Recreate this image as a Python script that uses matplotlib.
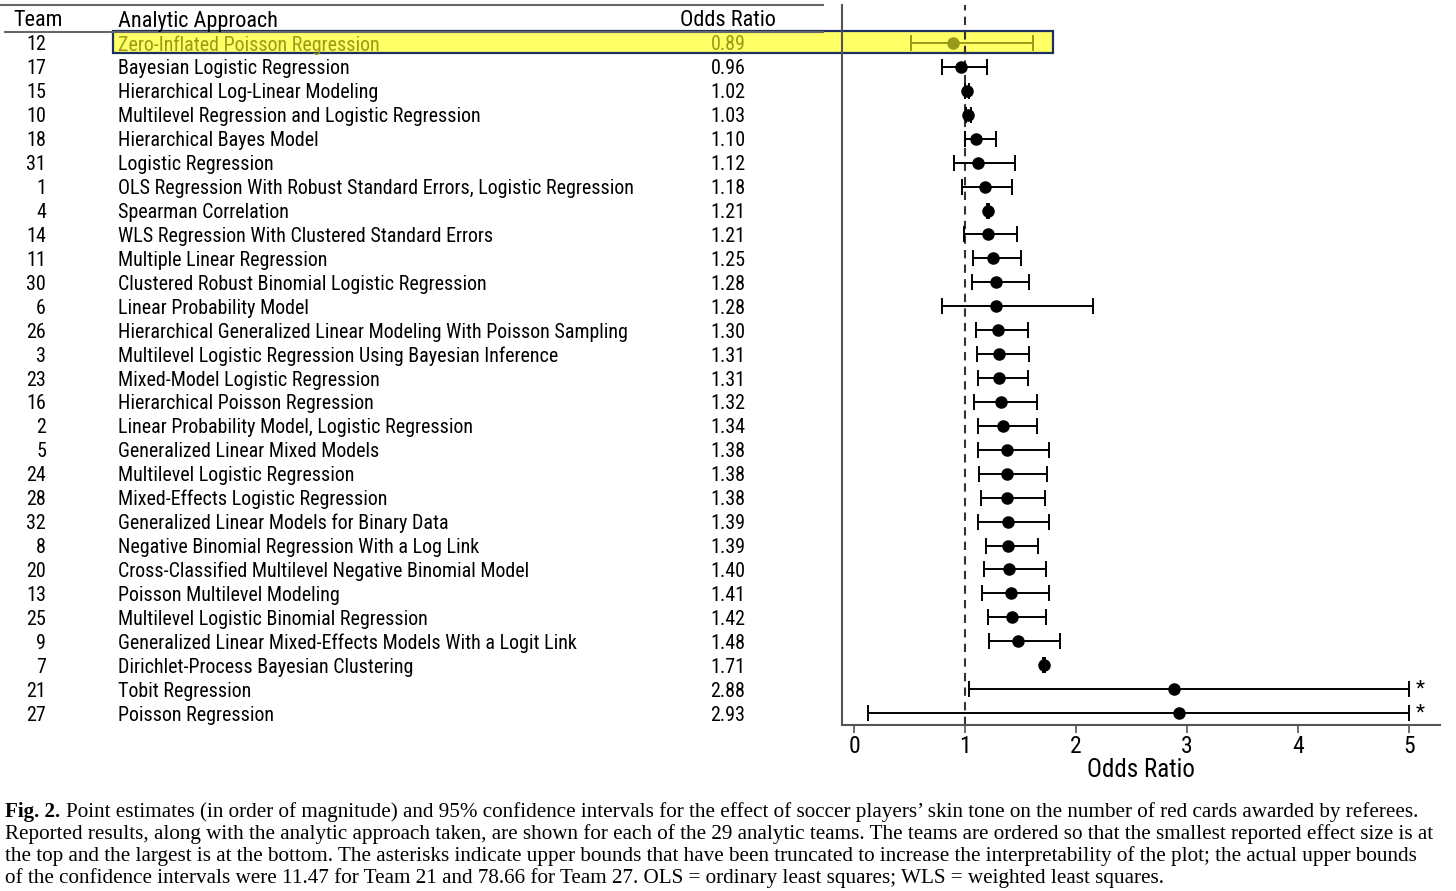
import matplotlib
matplotlib.use("Agg")
import matplotlib.pyplot as plt
from matplotlib.transforms import blended_transform_factory, offset_copy
from matplotlib.patches import Rectangle
from matplotlib import font_manager

names = {f.name for f in font_manager.fontManager.ttflist}
cands = ['Roboto Condensed', 'Archivo Narrow', 'PT Sans Narrow', 'IBM Plex Sans Condensed',
         'Open Sans Condensed', 'Liberation Sans']
SANS = [next(c for c in cands if c in names), 'DejaVu Sans']
SERIF = ['Liberation Serif', 'DejaVu Serif']

teams = [12, 17, 15, 10, 18, 31, 1, 4, 14, 11, 30, 6, 26, 3, 23, 16, 2, 5, 24, 28, 32, 8, 20, 13, 25, 9, 7, 21, 27]
approaches = [
    "Zero-Inflated Poisson Regression",
    "Bayesian Logistic Regression",
    "Hierarchical Log-Linear Modeling",
    "Multilevel Regression and Logistic Regression",
    "Hierarchical Bayes Model",
    "Logistic Regression",
    "OLS Regression With Robust Standard Errors, Logistic Regression",
    "Spearman Correlation",
    "WLS Regression With Clustered Standard Errors",
    "Multiple Linear Regression",
    "Clustered Robust Binomial Logistic Regression",
    "Linear Probability Model",
    "Hierarchical Generalized Linear Modeling With Poisson Sampling",
    "Multilevel Logistic Regression Using Bayesian Inference",
    "Mixed-Model Logistic Regression",
    "Hierarchical Poisson Regression",
    "Linear Probability Model, Logistic Regression",
    "Generalized Linear Mixed Models",
    "Multilevel Logistic Regression",
    "Mixed-Effects Logistic Regression",
    "Generalized Linear Models for Binary Data",
    "Negative Binomial Regression With a Log Link",
    "Cross-Classified Multilevel Negative Binomial Model",
    "Poisson Multilevel Modeling",
    "Multilevel Logistic Binomial Regression",
    "Generalized Linear Mixed-Effects Models With a Logit Link",
    "Dirichlet-Process Bayesian Clustering",
    "Tobit Regression",
    "Poisson Regression",
]
odds = [0.89, 0.96, 1.02, 1.03, 1.10, 1.12, 1.18, 1.21, 1.21, 1.25, 1.28, 1.28, 1.30, 1.31, 1.31,
        1.32, 1.34, 1.38, 1.38, 1.38, 1.39, 1.39, 1.40, 1.41, 1.42, 1.48, 1.71, 2.88, 2.93]
lower = [0.51, 0.79, 1.00, 1.01, 1.00, 0.90, 0.97, 1.20, 0.99, 1.07, 1.06, 0.79, 1.10, 1.11, 1.12,
         1.08, 1.12, 1.12, 1.13, 1.14, 1.12, 1.19, 1.17, 1.15, 1.21, 1.22, 1.70, 1.04, 0.13]
upper = [1.61, 1.20, 1.04, 1.05, 1.28, 1.45, 1.42, 1.22, 1.47, 1.50, 1.58, 2.15, 1.57, 1.58, 1.57,
         1.65, 1.65, 1.76, 1.74, 1.72, 1.76, 1.66, 1.73, 1.76, 1.73, 1.86, 1.72, 11.47, 78.66]
highlight_team = 12
truncate_at = 5
xticks = [0, 1, 2, 3, 4, 5]

W, H = 1456, 891
fig = plt.figure(figsize=(W / 100, H / 100), dpi=100)

x_left, x_right, y_top, y_bot = 842, 1440, 5, 725
ax = fig.add_axes([x_left / W, 1 - y_bot / H, (x_right - x_left) / W, (y_bot - y_top) / H])
row0, rowstep = 43, 23.93
ax.set_ylim((y_bot - row0) / rowstep, (y_top - row0) / rowstep)
ax.set_xlim((x_left - 854) / 111, (x_right - 854) / 111)

spine_col = '#555555'
for s in ['top', 'right']:
    ax.spines[s].set_visible(False)
for s in ['left', 'bottom']:
    ax.spines[s].set_color(spine_col)
    ax.spines[s].set_linewidth(1.5)
ax.set_yticks([])
ax.set_xticks(xticks)
ax.set_xticklabels([str(t) for t in xticks], family=SANS, fontsize=17)
ax.tick_params(axis='x', length=6, width=1.2, color=spine_col, pad=1)
ax.set_xlabel('Odds Ratio', family=SANS, fontsize=18, labelpad=0)

ax.axvline(1, color='#333333', lw=1.5, ls=(0, (4, 3)), zorder=1)

FS = 14.4
hl_col = '#9a9a1a'
bt = offset_copy(blended_transform_factory(fig.transFigure, ax.transData), fig=fig, x=0, y=-2, units='dots')
for i, (t, a, o, lo, up) in enumerate(zip(teams, approaches, odds, lower, upper)):
    col = hl_col if t == highlight_team else 'black'
    up_d = min(up, truncate_at)
    ax.errorbar(o, i, xerr=[[o - lo], [up_d - o]], fmt='o', color=col, ecolor=col,
                ms=8, elinewidth=1.4, capsize=6, capthick=1.4, zorder=3)
    if up > truncate_at:
        ax.text(truncate_at + 0.1, i, '*', ha='center', va='center', fontsize=15,
                family=SANS, color='black')
    ax.text(46 / W, i, str(t), transform=bt, ha='right', va='center', fontsize=FS,
            family=SANS, color='black', clip_on=False)
    ax.text(118 / W, i, a, transform=bt, ha='left', va='center', fontsize=FS,
            family=SANS, color=col, clip_on=False)
    ax.text(728 / W, i, f'{o:.2f}', transform=bt, ha='center', va='center', fontsize=FS,
            family=SANS, color=col, clip_on=False)

hy = (19 - row0) / rowstep
ax.text(38 / W, hy, 'Team', transform=bt, ha='center', va='center', fontsize=16, family=SANS, clip_on=False)
ax.text(118 / W, hy, 'Analytic Approach', transform=bt, ha='left', va='center', fontsize=16, family=SANS, clip_on=False)
ax.text(728 / W, hy, 'Odds Ratio', transform=bt, ha='center', va='center', fontsize=16, family=SANS, clip_on=False)
fig.add_artist(plt.Line2D([0, 823 / W], [1 - 5 / H, 1 - 5 / H], color='#666666', lw=1.5))
fig.add_artist(plt.Line2D([5 / W, 823 / W], [1 - 31.5 / H, 1 - 31.5 / H], color='#666666', lw=1.5))

rect = Rectangle((113 / W, 1 - 52.5 / H), (1053 - 113) / W, 21.5 / H, transform=fig.transFigure,
                 facecolor='#ffff66', edgecolor='#1f3060', lw=1.6)
fig.add_artist(rect)
rect.set_zorder(-1)
ax.set_zorder(2)
ax.patch.set_alpha(0)

cap_lines = [
    "Point estimates (in order of magnitude) and 95% confidence intervals for the effect of soccer players\u2019 skin tone on the number of red cards awarded by referees.",
    "Reported results, along with the analytic approach taken, are shown for each of the 29 analytic teams. The teams are ordered so that the smallest reported effect size is at",
    "the top and the largest is at the bottom. The asterisks indicate upper bounds that have been truncated to increase the interpretability of the plot; the actual upper bounds",
    "of the confidence intervals were 11.47 for Team 21 and 78.66 for Team 27. OLS = ordinary least squares; WLS = weighted least squares.",
]
cap_y = [812, 834, 856, 878]
fs_cap = 15.2
t0 = fig.text(5 / W, 1 - cap_y[0] / H, 'Fig. 2.', fontsize=fs_cap, family=SERIF, weight='bold', va='center')
fig.canvas.draw()
bb = t0.get_window_extent()
fig.text((bb.x1 + 6) / W, 1 - cap_y[0] / H, cap_lines[0], fontsize=fs_cap, family=SERIF, va='center')
for ln, yy in zip(cap_lines[1:], cap_y[1:]):
    fig.text(5 / W, 1 - yy / H, ln, fontsize=fs_cap, family=SERIF, va='center')

fig.savefig('out.png', dpi=100)
